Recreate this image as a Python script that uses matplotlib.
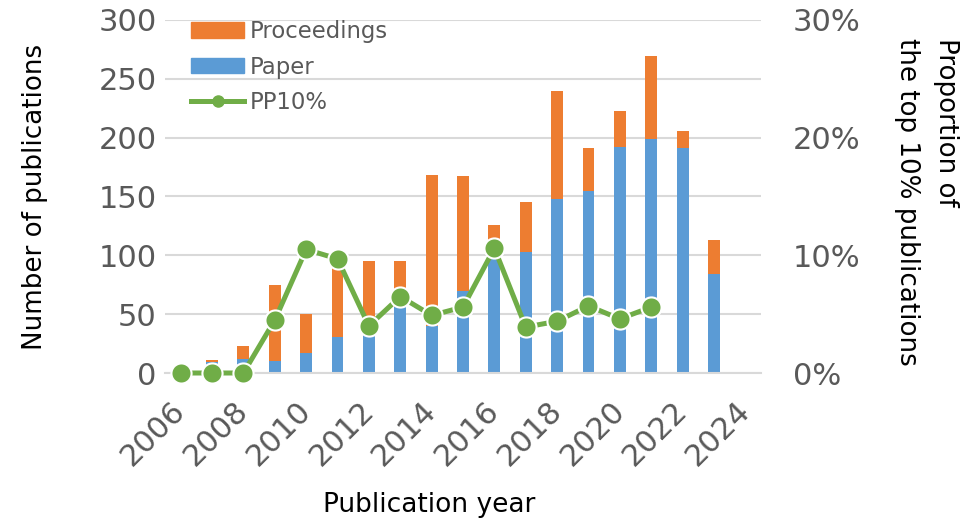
import numpy as np
import matplotlib
matplotlib.use("Agg")
import matplotlib.pyplot as plt
import matplotlib.transforms as mtransforms
from matplotlib.lines import Line2D
from matplotlib.patches import Patch

plt.rcParams['font.family'] = ['DejaVu Sans']

# data
years = list(range(2006, 2025))
paper = [0, 9, 12, 10, 17, 31, 32, 56, 40, 70, 112, 103, 148, 155, 192, 199, 191, 84, 1]
total = [0, 11, 23, 75, 50, 89, 95, 95, 168, 167, 126, 145, 240, 191, 223, 269, 206, 113, 1]
proceedings = [t - p for t, p in zip(total, paper)]
pp10_years = list(range(2006, 2022))
pp10 = [0.0, 0.0, 0.0, 4.5, 10.5, 9.7, 4.0, 6.5, 4.9, 5.6, 10.6, 3.9, 4.4, 5.7, 4.6, 5.6]

c_orange = '#ED7D31'
c_blue = '#5B9BD5'
c_green = '#70AD47'
c_grey = '#595959'

fig = plt.figure(figsize=(9.73, 5.19), dpi=100)
ax = fig.add_axes([0.1696, 0.2813, 0.6125, 0.6802])

x = np.arange(len(years))
ax.bar(x, paper, width=0.38, color=c_blue, zorder=2)
ax.bar(x, proceedings, width=0.38, bottom=paper, color=c_orange, zorder=2)

ax.set_xlim(-0.5, len(years) - 0.5)
ax.set_ylim(0, 300)
ax.set_yticks(range(0, 301, 50))
ax.yaxis.grid(True, color='#D9D9D9', linewidth=1.5, zorder=0)
ax.set_axisbelow(True)
ax.set_xticks(x[::2])
ax.set_xticklabels([str(y) for y in years[::2]], rotation=45, ha='right',
                   rotation_mode='anchor')
ax.tick_params(axis='both', length=0, labelsize=22, labelcolor=c_grey)
ax.tick_params(axis='y', pad=6)
ax.tick_params(axis='x', pad=8)
# nudge the rotated year labels down-left, as in the original
offset = mtransforms.ScaledTranslation(-10 / 100, -12 / 100, fig.dpi_scale_trans)
for lab in ax.get_xticklabels():
    lab.set_transform(lab.get_transform() + offset)
for s in ['top', 'right', 'left']:
    ax.spines[s].set_visible(False)
ax.spines['bottom'].set_color('#D9D9D9')
ax.spines['bottom'].set_linewidth(1.5)
ax.set_ylabel('Number of publications', fontsize=18.8, labelpad=36)
ax.set_xlabel('Publication year', fontsize=19, labelpad=15)
ax.xaxis.label.set_x(0.443)

ax2 = ax.twinx()
px = [years.index(y) for y in pp10_years]
ax2.plot(px, pp10, color=c_green, linewidth=3.6, marker='o', markersize=14.5,
         markerfacecolor=c_green, markeredgecolor='white', markeredgewidth=1.5,
         zorder=3, clip_on=False)
ax2.set_ylim(0, 30)
ax2.set_yticks(range(0, 31, 10))
ax2.set_yticklabels([f'{v}%' for v in range(0, 31, 10)])
ax2.tick_params(axis='y', length=0, labelsize=22, labelcolor=c_grey, pad=23)
for s in ax2.spines.values():
    s.set_visible(False)
ax2.set_ylabel('Proportion of\nthe top 10% publications', fontsize=18.8,
               rotation=-90, labelpad=71, linespacing=1.66,
               multialignment='left')
ax2.yaxis.label.set_y(0.486)

handles = [Patch(color=c_orange), Patch(color=c_blue),
           Line2D([0], [0], color=c_green, linewidth=3.6, marker='o', markersize=8,
                  markeredgecolor=c_green)]
leg = ax2.legend(handles, ['Proceedings', 'Paper', 'PP10%'], loc='upper left',
                 bbox_to_anchor=(0.01, 1.058), frameon=False, fontsize=16.4,
                 handlelength=2.3, handleheight=0.66, handletextpad=0.25,
                 labelspacing=0.55)
for t in leg.get_texts():
    t.set_color(c_grey)

fig.savefig('out.png', dpi=100)
